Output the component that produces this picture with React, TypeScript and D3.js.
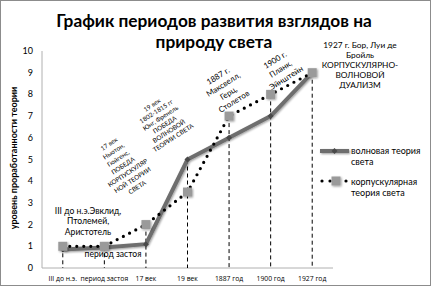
import React from "react";
import * as d3 from "d3";

const categories = ["III до н.э.", "период застоя", "17 век", "19 век", "1887 год", "1900 год", "1927 год"];
const waveValues = [0.85, 0.95, 1.1, 5, 6, 7, 9];
const particleValues = [1, 1, 2, 3.5, 7, 8, 9];
const yTicks = [0, 1, 2, 3, 4, 5, 6, 7, 8, 9, 10];
const seriesNames = ["волновая теория света", "корпускулярная теория света"];

const W = 431, H = 286;
const FONT = "Lato, 'Open Sans', 'Noto Sans', sans-serif";
const SMALL_FONT = "'Open Sans', 'Noto Sans', sans-serif";

type Ann = { x: number; y: number; rot: number; size: number; lh: number; lines: string[] };
const annotations: Ann[] = [
  { x: 88, y: 211, rot: 0, size: 8.6, lh: 10.3, lines: ["III до н.э.Эвклид,", "Птолемей,", "Аристотель"] },
  { x: 113, y: 254, rot: 0, size: 8.6, lh: 10, lines: ["период застоя"] },
  { x: 109, y: 144, rot: -33, size: 6.3, lh: 8.6, lines: ["17 век", "Ньютон,", "Гюйгенс,", "ПОБЕДА", "КОРПУСКУЛЯР", "НОЙ ТЕОРИИ", "СВЕТА"] },
  { x: 152, y: 105, rot: -33, size: 6.3, lh: 7.8, lines: ["19 век", "1802-1815 гг", "Юнг, Френель", "ПОБЕДА", "ВОЛНОВОЙ", "ТЕОРИИ СВЕТА"] },
  { x: 218, y: 76, rot: -32, size: 8, lh: 10, lines: ["1887 г.", "Максвелл,", "Герц,", "Столетов"] },
  { x: 275, y: 60, rot: -32, size: 8, lh: 10.5, lines: ["1900 г.", "Планк,", "Эйнштейн"] },
  { x: 360, y: 45, rot: 0, size: 8.3, lh: 10, lines: ["1927 г. Бор, Луи де", "Бройль", "КОРПУСКУЛЯРНО-", "ВОЛНОВОЙ", "ДУАЛИЗМ"] },
];

export default function App() {
  const x = d3.scaleBand<string>().domain(categories).range([42, 333]);
  const y = d3.scaleLinear().domain([0, 10]).range([268, 51]);
  const cx = (c: string) => (x(c) as number) + x.bandwidth() / 2;

  const line = d3.line<number>().x((_, i) => cx(categories[i])).y((v) => y(v));

  const squareMarker = (px: number, py: number, key: string) => (
    <rect key={key} x={px - 4.5} y={py - 4.5} width={9} height={9} fill="#9a9a9a" filter="url(#glow)" />
  );
  const waveMarker = (px: number, py: number, key: string) => (
    <path key={key} d={`M${px - 3},${py} L${px},${py - 3} L${px + 3},${py} L${px},${py + 3} Z`} fill="#4a4a4a" />
  );

  return (
    <svg width={W} height={H} style={{ position: "absolute", left: 0, top: 0, display: "block" }}>
      <defs>
        <filter id="glow" filterUnits="userSpaceOnUse" x={0} y={0} width={W} height={H}>
          <feGaussianBlur in="SourceAlpha" stdDeviation="1.2" result="b" />
          <feOffset dx="1" dy="1" in="b" result="o" />
          <feComponentTransfer in="o" result="s">
            <feFuncA type="linear" slope="0.4" />
          </feComponentTransfer>
          <feMerge>
            <feMergeNode in="s" />
            <feMergeNode in="SourceGraphic" />
          </feMerge>
        </filter>
      </defs>
      <rect x={0.5} y={0.5} width={W - 1} height={H - 1} fill="#fff" stroke="#8c8c8c" strokeWidth={1} />

      {/* title */}
      <text x={214} y={27} textAnchor="middle" fontFamily={FONT} fontWeight="bold" fontSize={17.3} fill="#000">
        График периодов развития взглядов на
      </text>
      <text x={214} y={48} textAnchor="middle" fontFamily={FONT} fontWeight="bold" fontSize={17.3} fill="#000">
        природу света
      </text>

      {/* axes */}
      <line x1={42} x2={42} y1={y(10)} y2={y(0)} stroke="#b0b0b0" />
      <line x1={42} x2={333} y1={y(0)} y2={y(0)} stroke="#b0b0b0" />
      {yTicks.map((t) => (
        <text key={t} x={33} y={y(t) + 3} textAnchor="end" fontFamily={FONT} fontSize={9} fill="#000">
          {t}
        </text>
      ))}
      {categories.map((c) => (
        <text key={c} x={cx(c)} y={281} textAnchor="middle" fontFamily={SMALL_FONT} fontSize={6.8} fill="#000">
          {c}
        </text>
      ))}
      <text
        transform={`translate(17,158) rotate(-90)`}
        textAnchor="middle"
        fontFamily={FONT}
        fontWeight="bold"
        fontSize={9}
        fill="#000"
      >
        уровень проработанности теории
      </text>

      {/* drop lines */}
      {categories.map((c, i) => (
        <line
          key={"d" + c}
          x1={cx(c)}
          x2={cx(c)}
          y1={y(Math.max(waveValues[i], particleValues[i]))}
          y2={y(0)}
          stroke="#000"
          strokeWidth={1}
          strokeDasharray="4 3"
        />
      ))}

      {/* wave series */}
      <path d={line(waveValues) || ""} fill="none" stroke="#6e6e6e" strokeWidth={4} strokeLinejoin="round" filter="url(#glow)" />
      {waveValues.map((v, i) => waveMarker(cx(categories[i]), y(v), "w" + i))}

      {/* particle series */}
      <path
        d={line(particleValues) || ""}
        fill="none"
        stroke="#000"
        strokeWidth={3.2}
        strokeLinecap="round"
        strokeDasharray="0 7"
      />
      {particleValues.map((v, i) => squareMarker(cx(categories[i]), y(v), "p" + i))}

      {/* annotations */}
      {annotations.map((a, k) => (
        <g key={"a" + k} transform={`translate(${a.x},${a.y}) rotate(${a.rot})`}>
          <text textAnchor="middle" fontFamily={FONT} fontSize={a.size} fill="#000">
            {a.lines.map((l, j) => (
              <tspan key={j} x={0} dy={j === 0 ? "0.35em" : a.lh}>
                {l}
              </tspan>
            ))}
          </text>
        </g>
      ))}

      {/* legend */}
      <line x1={320} x2={349} y1={151} y2={151} stroke="#6e6e6e" strokeWidth={4} filter="url(#glow)" />
      {waveMarker(334.5, 151, "lw")}
      <text fontFamily={FONT} fontSize={9} fill="#000">
        <tspan x={351} y={154}>{seriesNames[0].split(" ").slice(0, 2).join(" ")}</tspan>
        <tspan x={351} y={165}>{seriesNames[0].split(" ")[2]}</tspan>
      </text>
      <line x1={322} x2={347} y1={181} y2={181} stroke="#000" strokeWidth={3.2} strokeLinecap="round" strokeDasharray="0 8" />
      {squareMarker(336, 181, "lp")}
      <text fontFamily={FONT} fontSize={9} fill="#000">
        <tspan x={351} y={185}>{seriesNames[1].split(" ")[0]}</tspan>
        <tspan x={351} y={196}>{seriesNames[1].split(" ").slice(1).join(" ")}</tspan>
      </text>
    </svg>
  );
}
